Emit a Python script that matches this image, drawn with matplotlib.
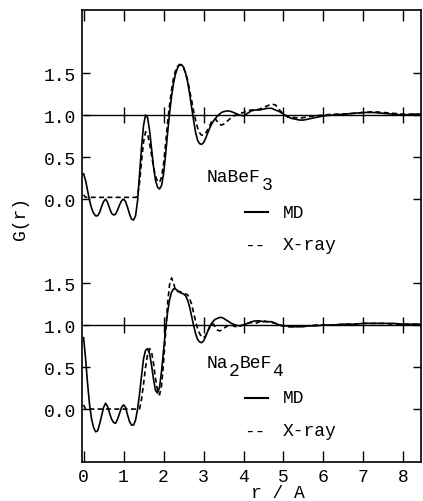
import numpy as np
import matplotlib.pyplot as plt
from matplotlib.lines import Line2D

plt.rcParams['font.family'] = ['Liberation Mono', 'DejaVu Sans Mono']

# r grid: fine step to 3.5, coarser beyond
r_fine = [round(0.05 * i, 2) for i in range(71)]
r_top_tail = [3.6, 3.7, 3.8, 3.9, 4.0, 4.1, 4.2, 4.3, 4.4, 4.5, 4.6, 4.7, 4.8, 4.9,
              5.0, 5.1, 5.2, 5.3, 5.4, 5.5, 5.6, 5.8, 6.0, 6.25, 6.5, 6.75, 7.0,
              7.25, 7.5, 7.75, 8.0, 8.25, 8.5]

# NaBeF3, MD
g_nabef3_md = [0.30, 0.22, 0.10, -0.02, -0.11, -0.17, -0.20, -0.20, -0.16, -0.09,
               -0.03, 0.00, -0.04, -0.11, -0.17, -0.19, -0.18, -0.13, -0.07, -0.02,
               0.00, -0.03, -0.10, -0.18, -0.24, -0.25, -0.20, -0.02, 0.30, 0.62,
               0.88, 1.00, 0.97, 0.82, 0.60, 0.38, 0.22, 0.14, 0.12, 0.16,
               0.30, 0.52, 0.78, 1.02, 1.22, 1.38, 1.49, 1.56, 1.60, 1.60,
               1.57, 1.50, 1.40, 1.26, 1.10, 0.94, 0.80, 0.70, 0.66, 0.65,
               0.67, 0.72, 0.78, 0.84, 0.89, 0.93, 0.96, 0.99, 1.01, 1.03, 1.04,
               1.05, 1.04, 1.02, 1.00, 0.99, 1.02, 1.05, 1.06, 1.06, 1.07, 1.08, 1.08,
               1.06, 1.04, 1.01, 0.98, 0.96, 0.95, 0.94, 0.94, 0.95, 0.97, 0.99, 1.00,
               1.01, 1.02, 1.03, 1.03, 1.02, 1.01, 1.00, 1.01, 1.01]

# NaBeF3, X-ray
g_nabef3_xr = [0.05, 0.02, 0.02, 0.02, 0.02, 0.02, 0.02, 0.02, 0.02, 0.02,
               0.02, 0.02, 0.02, 0.02, 0.02, 0.02, 0.02, 0.02, 0.02, 0.02,
               0.02, 0.02, 0.02, 0.02, 0.02, 0.02, 0.02, 0.03, 0.20, 0.45,
               0.68, 0.80, 0.78, 0.66, 0.52, 0.38, 0.27, 0.21, 0.20, 0.26,
               0.42, 0.65, 0.90, 1.12, 1.30, 1.44, 1.53, 1.58, 1.60, 1.59,
               1.56, 1.50, 1.42, 1.30, 1.18, 1.05, 0.94, 0.85, 0.79, 0.76,
               0.76, 0.78, 0.82, 0.87, 0.92, 0.95, 0.95, 0.92, 0.89, 0.88, 0.89,
               0.93, 0.97, 1.00, 1.02, 1.03, 1.05, 1.06, 1.06, 1.07, 1.09, 1.11, 1.13,
               1.12, 1.06, 1.01, 0.98, 0.97, 0.97, 0.96, 0.97, 0.98, 0.99, 1.00, 1.01,
               1.01, 1.02, 1.03, 1.04, 1.03, 1.02, 1.01, 1.01, 1.01]

# Na2BeF4, MD
g_na2bef4_md = [0.85, 0.60, 0.30, 0.05, -0.12, -0.22, -0.27, -0.26, -0.18, -0.08,
                0.02, 0.07, 0.03, -0.05, -0.12, -0.16, -0.17, -0.12, -0.05, 0.02,
                0.05, 0.02, -0.07, -0.15, -0.19, -0.19, -0.13, 0.00, 0.18, 0.40,
                0.60, 0.70, 0.72, 0.66, 0.52, 0.35, 0.22, 0.19, 0.26, 0.45,
                0.70, 0.95, 1.15, 1.30, 1.39, 1.43, 1.43, 1.41, 1.39, 1.38,
                1.37, 1.35, 1.30, 1.22, 1.11, 1.00, 0.90, 0.83, 0.80, 0.79,
                0.81, 0.86, 0.92, 0.97, 1.02, 1.05, 1.07, 1.08, 1.09, 1.09, 1.08,
                1.05, 1.02, 1.00, 0.99, 1.00, 1.02, 1.04, 1.05, 1.05, 1.04, 1.04, 1.04,
                1.02, 1.00, 0.99, 0.99, 0.98, 0.98, 0.98, 0.98, 0.99, 0.99, 1.00, 1.00,
                1.01, 1.01, 1.02, 1.02, 1.02, 1.02, 1.01, 1.01, 1.01]

# Na2BeF4, X-ray
g_na2bef4_xr = [0.05, 0.00, 0.00, 0.00, 0.00, 0.00, 0.00, 0.00, 0.00, 0.00,
                0.00, 0.00, 0.00, 0.00, 0.00, 0.00, 0.00, 0.00, 0.00, 0.00,
                0.00, 0.00, 0.00, 0.00, 0.00, 0.00, 0.00, 0.00, 0.00, 0.12,
                0.30, 0.50, 0.65, 0.72, 0.68, 0.54, 0.36, 0.22, 0.17, 0.28,
                0.55, 0.90, 1.25, 1.48, 1.56, 1.50, 1.41, 1.40, 1.40, 1.39,
                1.38, 1.37, 1.36, 1.32, 1.25, 1.15, 1.05, 0.96, 0.90, 0.86,
                0.85, 0.87, 0.92, 0.98, 1.02, 1.01, 0.97, 0.94, 0.93, 0.94, 0.96,
                0.99, 1.00, 0.98, 0.99, 1.00, 1.02, 1.03, 1.02, 1.04, 1.05, 1.04, 1.03,
                1.02, 1.00, 0.99, 0.98, 0.98, 0.98, 0.99, 0.99, 0.99, 1.00, 1.00, 1.00,
                1.01, 1.01, 1.02, 1.02, 1.02, 1.01, 1.01, 1.01, 1.01]

r = np.array(r_fine + r_top_tail)
offset_top = 2.5
ytick_vals = [0.0, 0.5, 1.0, 1.5]
ytick_labels = ['0.0', '0.5', '1.0', '1.5']
xtick_vals = [0, 1, 2, 3, 4, 5, 6, 7, 8]

fig = plt.figure(figsize=(4.23, 5.02), dpi=100)
ax = fig.add_axes([82 / 423, 39 / 502, 339 / 423, 452 / 502])

lw = 1.2
dash = (0, (3, 2))
ax.plot(r, np.array(g_nabef3_md) + offset_top, color='black', lw=lw)
ax.plot(r, np.array(g_nabef3_xr) + offset_top, color='black', lw=lw, linestyle=dash)
ax.plot(r, g_na2bef4_md, color='black', lw=lw)
ax.plot(r, g_na2bef4_xr, color='black', lw=lw, linestyle=dash)

# G = 1 reference lines with cross ticks
for off in [0.0, offset_top]:
    ax.hlines(1.0 + off, 0, 8.44, color='black', lw=1.0)
    ax.plot(xtick_vals[1:], [1.0 + off] * len(xtick_vals[1:]), linestyle='none',
            marker='|', color='black', ms=12, mew=1.0)

ax.set_xlim(-0.04, 8.44)
ax.set_ylim(-0.63, 4.75)
ax.set_xticks(xtick_vals)
ax.set_xticklabels([str(v) for v in xtick_vals])
ax.set_yticks(ytick_vals + [v + offset_top for v in ytick_vals])
ax.set_yticklabels(ytick_labels * 2)
ax.tick_params(direction='in', length=6, width=1.0, labelsize=13,
               top=True, right=True, pad=4)
ax.tick_params(axis='x', length=8)
for s in ax.spines.values():
    s.set_linewidth(1.2)

fig.text(20 / 423, 1 - 218 / 502, 'G(r)', rotation=90, fontsize=13,
         ha='center', va='center')
fig.text(278 / 423, 1 - 494 / 502, 'r / A', fontsize=13, ha='center', va='center')

# legend blocks; formula pieces placed one char cell apart (monospace)
cell = 10.9
def legend_block(y_title, pieces):
    x = 207
    for txt, is_sub in pieces:
        dy = 9 if is_sub else 0
        fig.text(x / 423, 1 - (y_title + dy) / 502, txt, fontsize=13,
                 ha='left', va='center')
        x += cell * len(txt)
    y_md = y_title + 36
    y_xr = y_title + 69
    fig.add_artist(Line2D([245 / 423, 268 / 423], [1 - y_md / 502] * 2,
                          color='black', lw=1.5))
    fig.text(283 / 423, 1 - y_md / 502, 'MD', fontsize=13, ha='left', va='center')
    fig.text(244 / 423, 1 - y_xr / 502, '--', fontsize=13, ha='left', va='center')
    fig.text(283 / 423, 1 - y_xr / 502, 'X-ray', fontsize=13, ha='left', va='center')

legend_block(177, [('NaBeF', False), ('3', True)])
legend_block(363, [('Na', False), ('2', True), ('BeF', False), ('4', True)])

fig.savefig('out.png', dpi=100)
